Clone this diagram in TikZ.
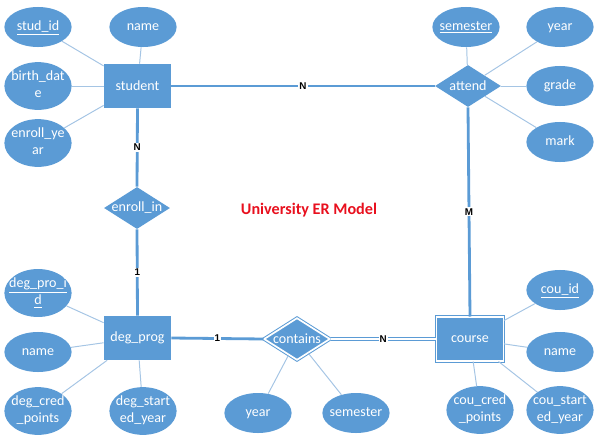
\documentclass[tikz,border=0pt]{standalone}
\usepackage{fontspec}
\setmainfont{Carlito}
\newfontfamily\cardfont{Liberation Sans}
\usetikzlibrary{positioning,shapes.geometric}
\definecolor{erblue}{HTML}{5B9BD5}
\definecolor{erthin}{HTML}{A5C5E4}
\definecolor{titlered}{HTML}{E8101E}
\newcommand{\attrtxt}[1]{\makebox[0pt]{\begin{tabular}{@{}c@{}}#1\end{tabular}}}

\begin{document}
\begin{tikzpicture}[x=0.025cm, y=-0.025cm,
			entitynode/.style={rectangle, fill=erblue, text=white, minimum width=1.68cm, minimum height=1.1cm, inner sep=0pt, font=\fontsize{10}{12}\selectfont},
			weaknode/.style={entitynode, draw=erblue, line width=0.7pt, double=white, double distance=1.2pt},
			relnode/.style={diamond, fill=erblue, text=white, minimum width=1.65cm, minimum height=1.05cm, inner sep=0pt, font=\fontsize{10}{12}\selectfont},
			weakrel/.style={relnode, draw=erblue, line width=0.7pt, double=white, double distance=1.2pt},
			attrnode/.style={ellipse, fill=erblue, text=white, minimum width=1.68cm, minimum height=1.0cm, inner sep=0pt, font=\fontsize{10}{12}\selectfont},
			relline/.style={draw=erblue, line width=2pt},
			totalline/.style={draw=erblue, line width=0.8pt, double=white, double distance=1.4pt},
			attrline/.style={draw=erthin, line width=0.7pt},
			card/.style={fill=white, inner sep=0.8pt, font=\cardfont\fontsize{7}{8}\selectfont\bfseries},
		]
		
			\useasboundingbox (0,0) rectangle (600,442);
		
			%Nodes
			\node[entitynode]	(student)	at (137.5,86)	{student};
			\node[relnode]		(enroll)	at (137,208)	{\makebox[0pt]{enroll\_in}};
			\node[entitynode]	(degprog)	at (137.5,338)	{deg\_prog};
			\node[weakrel]		(contains)	at (297,339)	{\makebox[0pt]{contains}};
			\node[weaknode]		(course)	at (470,339)	{course};
			\node[relnode]		(attend)	at (468,86)		{\makebox[0pt]{attend}};
		
			\node[attrnode]	(studid)	at (38,27)		{\attrtxt{\underline{stud\_id}}};
			\node[attrnode]	(sname)		at (143,27)		{\attrtxt{name}};
			\node[attrnode]	(birth)		at (38,86)		{\attrtxt{birth\_dat\\e}};
			\node[attrnode]	(enryear)	at (38,143)		{\attrtxt{enroll\_ye\\ar}};
		
			\node[attrnode]	(degid)		at (38,293)		{\attrtxt{\underline{deg\_pro\_i}\\\underline{d}}};
			\node[attrnode]	(dname)		at (38,352)		{\attrtxt{name}};
			\node[attrnode]	(dcred)		at (38,411)		{\attrtxt{deg\_cred\\\_points}};
			\node[attrnode]	(dstart)	at (143,411)	{\attrtxt{deg\_start\\ed\_year}};
		
			\node[attrnode]	(cyear)		at (258,413)	{\attrtxt{year}};
			\node[attrnode]	(csem)		at (356,413)	{\attrtxt{semester}};
		
			\node[attrnode]	(couid)		at (560,290)	{\attrtxt{\underline{cou\_id}}};
			\node[attrnode]	(cname)		at (560,352)	{\attrtxt{name}};
			\node[attrnode]	(ccred)		at (480,410)	{\attrtxt{cou\_cred\\\_points}};
			\node[attrnode]	(cstart)	at (560,410)	{\attrtxt{cou\_start\\ed\_year}};
		
			\node[attrnode]	(asem)		at (466,27)		{\attrtxt{\underline{semester}}};
			\node[attrnode]	(ayear)		at (560,27)		{\attrtxt{year}};
			\node[attrnode]	(agrade)	at (560,86)		{\attrtxt{grade}};
			\node[attrnode]	(amark)		at (560,142)	{\attrtxt{mark}};
		
			\node[text=titlered, font=\fontsize{11.5}{13}\selectfont\bfseries]	(title)	at (309,210)	{University ER Model};
		
			%Lines
			\draw[attrline]	(studid) -- (student);
			\draw[attrline]	(sname) -- (student);
			\draw[attrline]	(birth) -- (student);
			\draw[attrline]	(enryear) -- (student);
			\draw[attrline]	(degid) -- (degprog);
			\draw[attrline]	(dname) -- (degprog);
			\draw[attrline]	(dcred) -- (degprog);
			\draw[attrline]	(dstart) -- (degprog);
			\draw[attrline]	(cyear) -- (contains);
			\draw[attrline]	(csem) -- (contains);
			\draw[attrline]	(couid) -- (course);
			\draw[attrline]	(cname) -- (course);
			\draw[attrline]	(ccred) -- (course);
			\draw[attrline]	(cstart) -- (course);
			\draw[attrline]	(asem) -- (attend);
			\draw[attrline]	(ayear) -- (attend);
			\draw[attrline]	(agrade) -- (attend);
			\draw[attrline]	(amark) -- (attend);
		
			\draw[relline]	(student.south) -- node[card] {N} (enroll.north);
			\draw[relline]	(enroll.south) -- node[card] {1} (degprog.north);
			\draw[relline]	(student.east) -- node[card] {N} (attend.west);
			\draw[relline]	(attend.south) -- node[card] {M} (course.north);
			\draw[relline]	(degprog.east) -- node[card] {1} (contains.west);
			\draw[totalline]	(contains.east) -- node[card] {N} (course.west);
		
		\end{tikzpicture}
\end{document}
